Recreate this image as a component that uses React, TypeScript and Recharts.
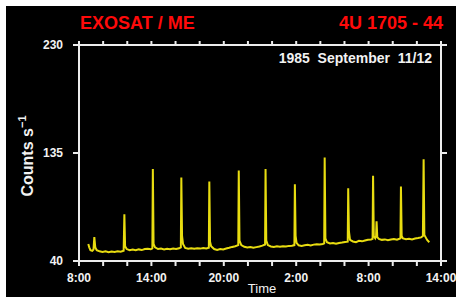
import React from "react";
import { LineChart, Line, XAxis, YAxis } from "recharts";

// Time in hours since 0:00 of Sept 11 (26 = 2:00 on Sept 12)
const times: number[] = [
  8.77, 8.85, 8.95, 9.1, 9.2, 9.27, 9.35, 9.47, 9.7, 9.95, 10.2, 10.45, 10.7, 10.95, 11.2, 11.45, 11.7,
  11.76, 11.82, 11.95, 12.2, 12.45, 12.7, 12.95, 13.2, 13.45, 13.7, 13.95, 14.08,
  14.12, 14.18, 14.3, 14.55, 14.8, 15.05, 15.3, 15.55, 15.8, 16.05, 16.3, 16.44,
  16.48, 16.54, 16.62, 16.8, 17.05, 17.3, 17.55, 17.8, 18.05, 18.3, 18.55, 18.76,
  18.8, 18.86, 18.95, 19.2, 19.45, 19.7, 19.95, 20.2, 20.45, 20.7, 20.95, 21.2,
  21.24, 21.3, 21.45, 21.7, 21.95, 22.2, 22.45, 22.7, 22.95, 23.2, 23.42,
  23.46, 23.52, 23.65, 23.9, 24.15, 24.4, 24.65, 24.9, 25.15, 25.4, 25.65, 25.85,
  25.89, 25.95, 26.03, 26.2, 26.45, 26.7, 26.95, 27.2, 27.45, 27.7, 27.95, 28.2, 28.32,
  28.36, 28.42, 28.55, 28.8, 29.05, 29.3, 29.55, 29.8, 30.05, 30.27,
  30.31, 30.37, 30.46, 30.7, 30.95, 31.2, 31.45, 31.7, 31.95, 32.2, 32.33,
  32.37, 32.43, 32.55, 32.62, 32.66, 32.72, 32.85, 33.1, 33.35, 33.6, 33.85, 34.1, 34.35, 34.55, 34.64,
  34.68, 34.74, 34.85, 35.1, 35.35, 35.6, 35.85, 36.1, 36.35, 36.5,
  36.56, 36.62, 36.72, 36.85, 37.03,
];

// Counts per second
const counts: number[] = [
  55, 52, 49.5, 49, 50, 61, 52, 49.5, 48.5, 48, 48.5, 47.8, 48.3, 48, 48.6, 48.2, 49,
  81, 53, 50.5, 49.5, 50, 49.4, 50.2, 49.6, 50.5, 50.8, 50.3, 51,
  121, 55, 52, 50.5, 51, 50.2, 50.8, 50.4, 51, 50.6, 51.2, 52,
  113.5, 62, 55, 51.5, 50.8, 51.3, 50.7, 51.2, 50.9, 51.4, 51, 51.6,
  110, 57, 53, 50.5, 49.8, 50.6, 50.2, 51, 51.6, 52.4, 53, 54,
  119.5, 58, 54, 52.5, 51.8, 52.3, 51.6, 52.2, 52.8, 53.5, 54.5,
  121, 58, 54, 52.8, 52.4, 52.9, 52.5, 53, 52.7, 53.3, 53.5, 54,
  107.5, 62, 56, 53.8, 53.3, 53.8, 54.2, 53.7, 54.4, 54.8, 54.5, 55, 55.5,
  131, 60, 56.5, 55.4, 55.8, 55.2, 55.9, 56.3, 56.8, 57,
  104, 66, 58.5, 57.2, 56.6, 57.8, 57.3, 58.1, 58.6, 58.9, 59.5,
  115, 62, 60, 62, 75, 61, 59.5, 58.6, 59, 58.3, 58.9, 59.3, 58.8, 59.6, 60,
  105.5, 62, 59.8, 59.2, 59.6, 59, 59.8, 60.2, 60.8, 62,
  129.5, 63, 61, 58.5, 56.5,
];

const xTicks: number[] = [8, 10, 12, 14, 16, 18, 20, 22, 24, 26, 28, 30, 32, 34, 36, 38];
const xLabelTicks: number[] = [8, 14, 20, 26, 32, 38];
const yTicks: number[] = [40, 135, 230];

const data = times.map((t, i) => ({ t, c: counts[i] }));

const FONT = "'Liberation Sans', Arial, sans-serif";
const AXIS = "#ececec";

const fmtHour = (v: number) => `${v % 24}:00`;

const XTick = (props: any) => {
  const { x, y, payload } = props;
  if (!xLabelTicks.includes(payload.value)) return <g />;
  return (
    <text x={x} y={y} dy="0.71em" textAnchor="middle" fill="#f2f2f2" fontSize={12} fontWeight="bold" fontFamily={FONT}>
      {fmtHour(payload.value)}
    </text>
  );
};

const YTick = (props: any) => {
  const { x, y, payload } = props;
  return (
    <text x={x} y={y} dy="0.36em" textAnchor="end" fill="#f2f2f2" fontSize={12} fontWeight="bold" fontFamily={FONT}>
      {payload.value}
    </text>
  );
};

const Empty = () => <g />;

export default function App() {
  return (
    <div style={{ position: "absolute", left: 0, top: 0, width: 459, height: 297, background: "#ffffff", overflow: "hidden" }}>
      <div style={{ position: "absolute", left: 6, top: 6, width: 450, height: 291, background: "#000000" }} />
      <div style={{ position: "absolute", left: 0, top: 0 }}>
        <LineChart width={459} height={297} data={data} margin={{ top: 25, right: 8, bottom: 0, left: 39 }}>
          <XAxis
            xAxisId="bottom"
            dataKey="t"
            type="number"
            domain={[8, 38]}
            ticks={xTicks}
            interval={0}
            allowDataOverflow
            height={36}
            stroke={AXIS}
            strokeWidth={2}
            tickSize={5}
            tickMargin={7}
            tick={<XTick />}
          />
          <XAxis
            xAxisId="top"
            orientation="top"
            dataKey="t"
            type="number"
            domain={[8, 38]}
            ticks={xTicks}
            interval={0}
            allowDataOverflow
            height={20}
            stroke={AXIS}
            strokeWidth={2}
            tickSize={4}
            tick={<Empty />}
          />
          <YAxis
            yAxisId="left"
            type="number"
            domain={[40, 230]}
            ticks={yTicks}
            interval={0}
            allowDataOverflow
            width={40}
            stroke={AXIS}
            strokeWidth={2}
            tickSize={6}
            tickMargin={10}
            tick={<YTick />}
          />
          <YAxis
            yAxisId="right"
            orientation="right"
            type="number"
            domain={[40, 230]}
            ticks={yTicks}
            interval={0}
            allowDataOverflow
            width={10}
            stroke={AXIS}
            strokeWidth={2}
            tickSize={6}
            tick={<Empty />}
          />
          <Line
            xAxisId="top"
            yAxisId="right"
            dataKey="c"
            stroke="none"
            dot={false}
            activeDot={false}
            isAnimationActive={false}
          />
          <Line
            xAxisId="bottom"
            yAxisId="left"
            dataKey="c"
            type="linear"
            stroke="#e8dc10"
            strokeWidth={2}
            dot={false}
            activeDot={false}
            isAnimationActive={false}
          />
        </LineChart>
      </div>
      <svg width={459} height={297} style={{ position: "absolute", left: 0, top: 0, pointerEvents: "none" }}>
        <text x={80} y={29} fill="#ff0a0a" fontSize={18} fontWeight="bold" fontFamily={FONT}>EXOSAT / ME</text>
        <text x={443} y={29} fill="#ff0a0a" fontSize={18} fontWeight="bold" fontFamily={FONT} textAnchor="end">4U 1705 - 44</text>
        <text x={432} y={63} fill="#f2f2f2" fontSize={14} fontWeight="bold" fontFamily={FONT} textAnchor="end" style={{ whiteSpace: "pre" }}>
          1985  September  11/12
        </text>
        <text
          x={0}
          y={0}
          transform="translate(32.5,156) rotate(-90)"
          fill="#f2f2f2"
          fontSize={16}
          fontWeight="bold"
          fontFamily={FONT}
          textAnchor="middle"
        >
          Counts s<tspan dy={-7} fontSize={11}>−1</tspan>
        </text>
        <text x={262} y={293} fill="#f2f2f2" fontSize={13} fontFamily={FONT} textAnchor="middle">Time</text>
      </svg>
    </div>
  );
}
